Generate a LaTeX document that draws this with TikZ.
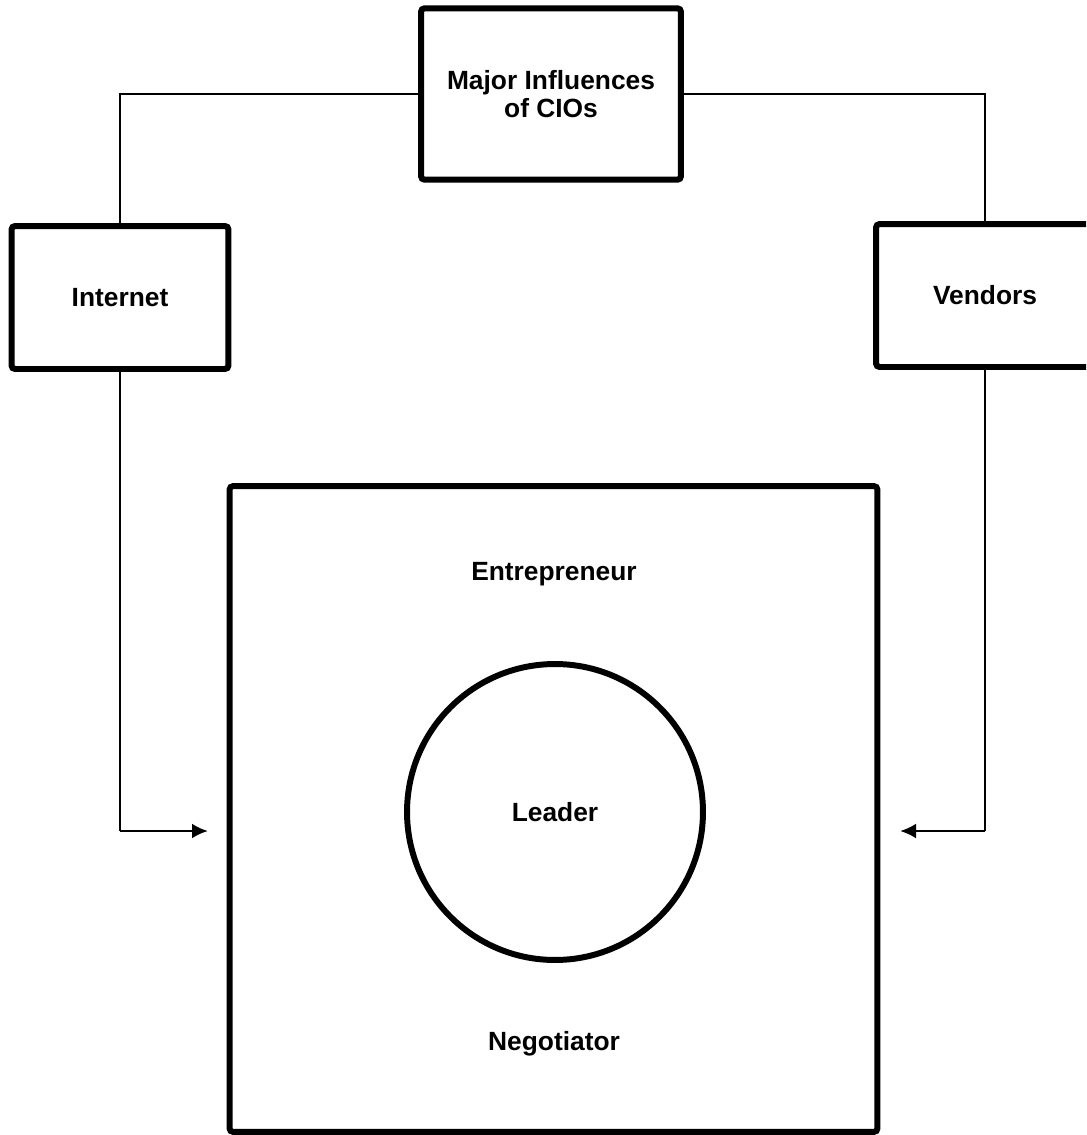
\documentclass[tikz,border=0pt]{standalone}
\usepackage{fontspec}
\setmainfont{Liberation Sans}
\usetikzlibrary{arrows.meta,calc,shapes.geometric}
\tikzset{>={Latex[length=.32cm,width=.3cm]},
  every node/.style={font=\bfseries\fontsize{15}{16}\selectfont},
  frame/.style={draw,line width=3.4pt,rounded corners=2pt,inner sep=0pt,align=center},
  ring/.style={draw,circle,line width=3.4pt,inner sep=0pt,minimum size=5.92cm},
  link/.style={draw,line width=1pt},
  feed/.style={->,line width=1.6pt}}
\begin{document}
\begin{tikzpicture}[x=.02cm,y=-.02cm]
\useasboundingbox(0,0)rectangle(1086,1135);
\clip(0,0)rectangle(1086,1135);
\node[frame,minimum width=5.2cm,minimum height=3.43cm](major)at(551,94){Major Influences\\of CIOs};
\node[frame,minimum width=4.34cm,minimum height=2.86cm](internet)at(120,297.5){Internet};
\node[frame,minimum width=4.36cm,minimum height=2.86cm](vendors)at(985,295.5){Vendors};
\node[frame,minimum width=12.96cm,minimum height=12.92cm](role)at(553.5,809){};
\node[ring](leader)at(555,812){Leader};
\node(entre)at(554,574){Entrepreneur};
\node(nego)at(554,1044){Negotiator};
\coordinate(inL)at(208,831);\coordinate(inR)at(900,831);
\draw[link](major.west)-|(internet.north);
\draw[link](major.east)-|(vendors.north);
\draw[link](internet.south)--(internet.south|-inL);
\draw[feed](internet.south|-inL)--(inL);
\draw[link](vendors.south)--(vendors.south|-inR);
\draw[feed](vendors.south|-inR)--(inR);
\end{tikzpicture}
\end{document}
